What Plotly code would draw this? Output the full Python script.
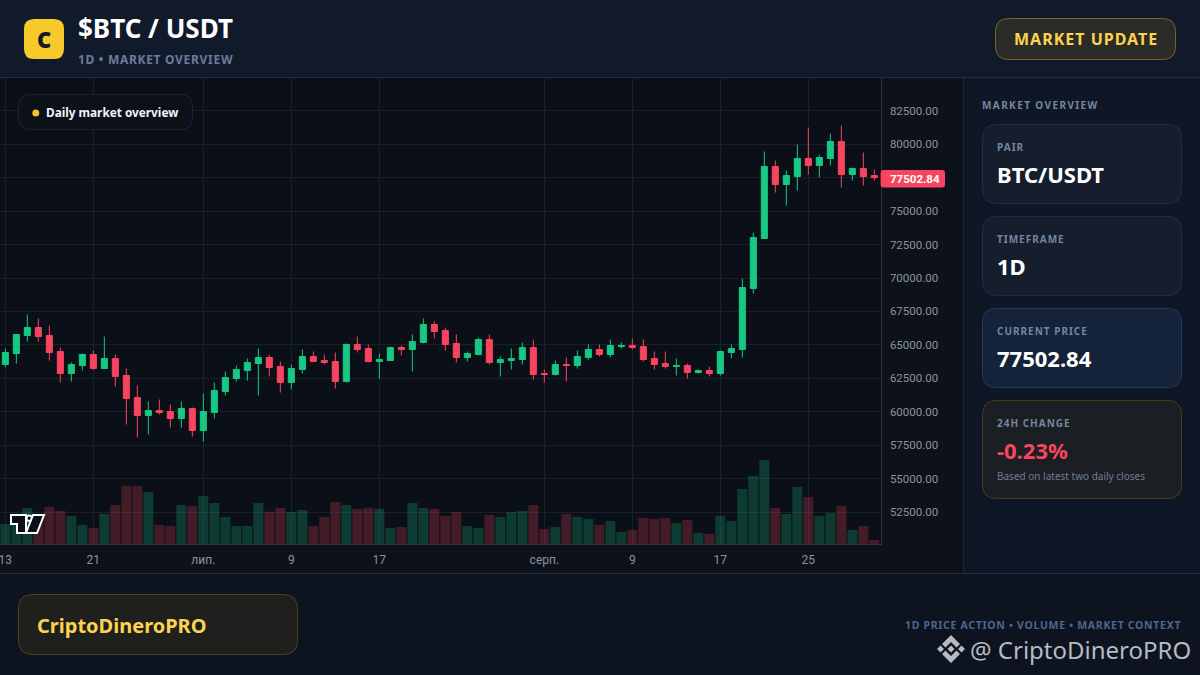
import json
import pandas as pd
import plotly.graph_objects as go

W, H = 1200, 675

# Daily candles
start_date = "2024-06-13"
opens = [63529, 64352, 65698, 66296, 65698, 64501, 62856, 63454, 64277, 63230,
         63978, 62706, 61061, 59715, 60089, 60014, 59490, 60238, 58593, 59939,
         61510, 62482, 63080, 63604, 64052, 63380, 62183, 63155, 64127, 63829,
         63754, 62258, 65025, 64726, 63754, 63828, 64801, 64651, 65175, 66521,
         66072, 65100, 64053, 64277, 65399, 63679, 63828, 63903, 64801, 62856,
         62781, 63529, 63455, 64053, 64651, 64277, 64875, 64950, 64875, 63978,
         63604, 63380, 63455, 62931, 63080, 62856, 64426, 64651, 69213, 72952,
         78337, 76991, 77590, 78936, 78412, 78936, 80207, 77739, 78188, 77664]
highs = [64726, 65773, 67269, 66970, 66446, 64800, 63679, 64352, 64576, 65623,
         64277, 63230, 61959, 60762, 60911, 60537, 60762, 60313, 61360, 62183,
         63005, 63454, 63978, 64726, 64277, 63754, 63529, 64651, 64501, 64277,
         64427, 65100, 65623, 65025, 64352, 64875, 64950, 65773, 66970, 66745,
         66296, 65773, 64501, 65548, 65773, 64127, 64726, 65175, 65399, 63155,
         63829, 64053, 64576, 65025, 65025, 65399, 65175, 65474, 65399, 64501,
         64501, 63978, 63604, 63155, 63380, 64576, 65025, 69961, 73401, 79459,
         78786, 78038, 79982, 81255, 79235, 80805, 81405, 78262, 79384, 78113]
lows = [63305, 63604, 65249, 65249, 63828, 62183, 62258, 63080, 63155, 63230,
        61884, 59042, 58069, 58294, 59790, 58817, 58817, 58144, 57770, 59490,
        61211, 62258, 62332, 61211, 62632, 61435, 61659, 62856, 63754, 63529,
        61734, 62183, 64427, 63679, 62482, 63828, 64202, 63006, 65100, 65474,
        64576, 63679, 63754, 64202, 63529, 62632, 63155, 63529, 62407, 62183,
        62707, 62258, 63230, 63853, 64127, 64053, 64726, 64651, 63753, 63155,
        63230, 62706, 62482, 62856, 62632, 62706, 63978, 64053, 68839, 72952,
        76392, 75421, 76543, 77739, 77515, 78412, 76767, 77291, 76917, 77291]
closes = [64427, 65773, 66296, 65623, 64427, 62856, 63529, 64277, 63230, 63978,
          62632, 60986, 59715, 60089, 59939, 59490, 60238, 58593, 60014, 61585,
          62557, 63155, 63679, 64052, 63305, 62183, 63230, 64127, 63754, 63679,
          62258, 65025, 64651, 63754, 63903, 64801, 64651, 65249, 66521, 65997,
          65025, 64053, 64352, 65399, 63679, 63903, 63978, 64801, 62781, 62781,
          63530, 63455, 64127, 64651, 64277, 64950, 64950, 64801, 63903, 63529,
          63380, 63455, 62931, 63080, 62856, 64501, 64726, 69288, 73027, 78337,
          76991, 77664, 78936, 78412, 79011, 80207, 77739, 78188, 77590, 77502.84]
volumes = [6100, 6100, 10900, 8000, 11200, 10000, 8500, 5800, 4900, 9100,
           11800, 17500, 17500, 15700, 5800, 5500, 11800, 11500, 14500, 12400,
           8200, 5500, 5500, 12400, 9800, 10900, 9700, 10300, 5500, 8200,
           12700, 11800, 10600, 10900, 10600, 4900, 5200, 12400, 10900, 10600,
           8500, 9700, 5500, 4900, 8800, 8200, 9700, 10000, 11800, 4600,
           5200, 9100, 8200, 7600, 5800, 7000, 3700, 4300, 7900, 7600,
           7900, 6400, 7300, 3400, 3100, 8500, 7000, 16600, 20500, 25300,
           10900, 9100, 17200, 14200, 8500, 9400, 11500, 4300, 5500, 1300]

price_ticks = [82500, 80000, 77500, 75000, 72500, 70000, 67500, 65000, 62500, 60000, 57500, 55000, 52500]
date_ticks = ["2024-06-13", "2024-06-21", "2024-07-01", "2024-07-09", "2024-07-17",
              "2024-08-01", "2024-08-09", "2024-08-17", "2024-08-25"]
date_labels = ["13", "21", "лип.", "9", "17", "серп.", "9", "17", "25"]

last_price = "77502.84"
change_24h = "-0.23%"

GREEN = "#17c984"
RED = "#f8455f"
GOLD = "#fcd34d"
FONT = "Noto Sans"
CHART_FONT = "Roboto"

# chart area in page pixels
PLOT_R, PLOT_T, PLOT_B = 880.6, 78, 544.3
SLOT = 11.0
FIRST_X = 5.33
PX_PER_USD = 0.013371
VOL_PER_PX = 300


def px(x):
    return x / W


def py(y):
    return 1 - y / H


def rect(x0, y0, x1, y1, fill, line=None, r=0, layer="below", width=1):
    if r:
        p = (f"M{px(x0+r)},{py(y0)} L{px(x1-r)},{py(y0)} Q{px(x1)},{py(y0)} {px(x1)},{py(y0+r)} "
             f"L{px(x1)},{py(y1-r)} Q{px(x1)},{py(y1)} {px(x1-r)},{py(y1)} "
             f"L{px(x0+r)},{py(y1)} Q{px(x0)},{py(y1)} {px(x0)},{py(y1-r)} "
             f"L{px(x0)},{py(y0+r)} Q{px(x0)},{py(y0)} {px(x0+r)},{py(y0)} Z")
    else:
        p = f"M{px(x0)},{py(y0)} L{px(x1)},{py(y0)} L{px(x1)},{py(y1)} L{px(x0)},{py(y1)} Z"
    return dict(type="path", path=p, xref="paper", yref="paper", fillcolor=fill,
                line=dict(color=line or fill, width=width if line else 0), layer=layer)


def poly(points, fill, line=None, width=1, layer="above"):
    p = "M" + " L".join(f"{px(a)},{py(b)}" for a, b in points) + " Z"
    return dict(type="path", path=p, xref="paper", yref="paper", fillcolor=fill,
                line=dict(color=line or fill, width=width if line else 0), layer=layer)


def diamond(cx, cy, r, fill):
    return poly([(cx, cy - r), (cx + r, cy), (cx, cy + r), (cx - r, cy)], fill)


def label(x, y, text, size, color, bold=True, family=FONT):
    # annotations carry about 2px of padding on the left
    return dict(x=px(x), y=py(y), xref="paper", yref="paper", text=text, showarrow=False, xshift=-2,
                xanchor="left", yanchor="middle", align="left",
                font=dict(family=family, size=size, color=color, weight=700 if bold else 400))


dates = pd.date_range(start_date, periods=len(closes), freq="D")
vol_colors = ["rgba(23,201,132,0.24)" if c >= o else "rgba(248,69,95,0.24)" for o, c in zip(opens, closes)]

fig = go.Figure()
fig.add_trace(go.Bar(x=dates, y=volumes, marker=dict(color=vol_colors, line_width=0), yaxis="y2",
                     hoverinfo="skip", showlegend=False))
fig.add_trace(go.Candlestick(x=dates, open=opens, high=highs, low=lows, close=closes,
                             increasing=dict(line=dict(color=GREEN, width=1), fillcolor=GREEN),
                             decreasing=dict(line=dict(color=RED, width=1), fillcolor=RED),
                             whiskerwidth=0, showlegend=False))

# axis ranges so one day is one candle slot
t0 = pd.Timestamp(start_date)
x_lo = t0 - pd.Timedelta(days=FIRST_X / SLOT)
x_hi = t0 + pd.Timedelta(days=(PLOT_R - FIRST_X) / SLOT)
y_hi = 80000 + (144.3 - PLOT_T) / PX_PER_USD
y_lo = 80000 - (PLOT_B - 144.3) / PX_PER_USD

shapes = [
    # page regions
    rect(0, 0, W, 77, "#111a2b"),
    rect(964, 78, W, 573, "#0f1727"),
    rect(0, 574, W, H, "#0d1420"),
    rect(0, 77, W, 78, "#242d40"),
    rect(0, 573, W, 574, "#242d40"),
    rect(963, 78, 964, 573, "#1f2838"),
    # header
    rect(24, 19, 64, 59, "#f8c92a", r=10),
    rect(995.5, 18.5, 1175.5, 59.5, "#2b2b28", "#7a6427", r=13),
    # pill
    rect(18.5, 94.5, 192.5, 129.5, "#0c1019", "#1d2330", r=12, layer="above"),
    dict(type="circle", xref="paper", yref="paper", x0=px(32.3), x1=px(39.3), y0=py(116.5), y1=py(109.5),
         fillcolor="#fbbf24", line_width=0, layer="above"),
    # cards
    rect(982.5, 124.5, 1181.5, 203.5, "#161e2d", "#222e40", r=14),
    rect(982.5, 216.5, 1181.5, 295.5, "#161e2d", "#222e40", r=14),
    rect(982.5, 308.5, 1181.5, 387.5, "#14223a", "#223a5e", r=14),
    rect(982.5, 400.5, 1181.5, 498.5, "#1b1e22", "#4a3d1a", r=14),
    rect(18.5, 594.5, 297.5, 654.5, "#1f1f1e", "#4f4219", r=14),
    # last price tag
    rect(880.6, 170, 945, 187.5, RED, r=3, layer="above"),
    # TradingView mark
    poly([(11, 515), (26, 515), (26, 533), (17, 533), (17, 524), (11, 524)], "#0b0f18", "#ffffff", 2),
    dict(type="circle", xref="paper", yref="paper", x0=px(26.5), x1=px(32), y0=py(521), y1=py(515.5),
         fillcolor="#0b0f18", line=dict(color="#ffffff", width=2), layer="above"),
    poly([(33, 515), (44, 515), (37, 533), (26, 533)], "#0b0f18", "#ffffff", 2),
    # Binance mark in the watermark
    poly([(951, 635), (960, 644), (956.5, 647.5), (951, 642), (945.5, 647.5), (942, 644)], "#b5bac3"),
    poly([(951, 663), (960, 654), (956.5, 650.5), (951, 656), (945.5, 650.5), (942, 654)], "#b5bac3"),
    diamond(940.5, 649, 3.5, "#b5bac3"),
    diamond(961.5, 649, 3.5, "#b5bac3"),
    diamond(951, 649, 3.5, "#b5bac3"),
]

annotations = [
    dict(x=px(44), y=py(39), xref="paper", yref="paper", text="C", showarrow=False,
         xanchor="center", yanchor="middle", font=dict(family=FONT, size=22, color="#111a2b", weight=900)),
    label(78, 28, "$BTC / USDT", 26, "#ffffff"),
    label(78, 59.5, "1D • MARKET OVERVIEW", 12, "#6b7c98"),
    label(1014, 39, "MARKET UPDATE", 16, GOLD),
    label(46, 112.5, "Daily market overview", 11.8, "#f1f4f8"),
    label(982, 105, "MARKET OVERVIEW", 10, "#7486a0"),
    label(997, 147, "PAIR", 10, "#7486a0"),
    label(997, 174, "BTC/USDT", 22, "#ffffff"),
    label(997, 239, "TIMEFRAME", 10, "#7486a0"),
    label(997, 266, "1D", 22, "#ffffff"),
    label(997, 331, "CURRENT PRICE", 10, "#7486a0"),
    label(997, 358, last_price, 22, "#ffffff"),
    label(997, 423, "24H CHANGE", 10, "#7486a0"),
    label(997, 450, change_24h, 22, RED),
    label(997, 476, "Based on latest two daily closes", 10, "#6f7d92", bold=False),
    label(37, 625, "CriptoDineroPRO", 20, GOLD),
    label(905, 625, "1D PRICE ACTION • VOLUME • MARKET CONTEXT", 10.5, "#4d6590"),
    label(970, 649, "@ CriptoDineroPRO", 24, "#b5bac3", bold=False),
    label(890, 178.5, last_price, 11.5, "#ffffff", family=CHART_FONT),
]

fig.update_layout(
    width=W, height=H, autosize=False,
    margin=dict(l=0, r=0, t=0, b=0),
    paper_bgcolor="#0c111a",
    plot_bgcolor="#0b0f17",
    boxgap=0.45,
    boxgroupgap=0,
    bargap=0.09,
    hovermode=False,
    showlegend=False,
    shapes=shapes,
    annotations=annotations,
    xaxis=dict(domain=[0, PLOT_R / W], range=[x_lo, x_hi], type="date", rangeslider_visible=False,
               tickmode="array", tickvals=date_ticks, ticktext=date_labels, ticklabeloverflow="allow",
               showgrid=True, gridcolor="#1a1f2c", gridwidth=1, zeroline=False,
               showline=True, linecolor="#2a3346", linewidth=1,
               ticks="outside", ticklen=4, tickcolor="rgba(0,0,0,0)",
               tickfont=dict(family=CHART_FONT, size=12, color="#8a93a3")),
    yaxis=dict(domain=[py(PLOT_B), py(PLOT_T)], range=[y_lo, y_hi], side="right",
               tickmode="array", tickvals=price_ticks, tickformat=".2f",
               showgrid=True, gridcolor="#1a1f2c", gridwidth=1, zeroline=False,
               showline=True, linecolor="#2a3346", linewidth=1,
               ticks="outside", ticklen=6, tickcolor="rgba(0,0,0,0)",
               tickfont=dict(family=CHART_FONT, size=11.5, color="#8a93a3")),
    yaxis2=dict(domain=[py(PLOT_B), py(PLOT_T)], overlaying="y", range=[0, (PLOT_B - PLOT_T) * VOL_PER_PX],
                visible=False),
)

# letter spacing has no layout option, so set it on the rendered text
spaced = {"1D • MARKET OVERVIEW": 0.7, "MARKET UPDATE": 1.0, "MARKET OVERVIEW": 1.4, "PAIR": 1.0,
          "TIMEFRAME": 1.0, "CURRENT PRICE": 1.0, "24H CHANGE": 1.0,
          "1D PRICE ACTION • VOLUME • MARKET CONTEXT": 0.7}
post = ("document.body.style.margin='0';document.body.style.overflow='hidden';"
        f"var sp={json.dumps(spaced, ensure_ascii=False)};"
        "document.querySelectorAll('.annotation-text').forEach(function(t){"
        "var s=sp[t.textContent];if(s)t.style.letterSpacing=s+'px';});")

fig.write_html("out.html", config={"displayModeBar": False}, post_script=post)
